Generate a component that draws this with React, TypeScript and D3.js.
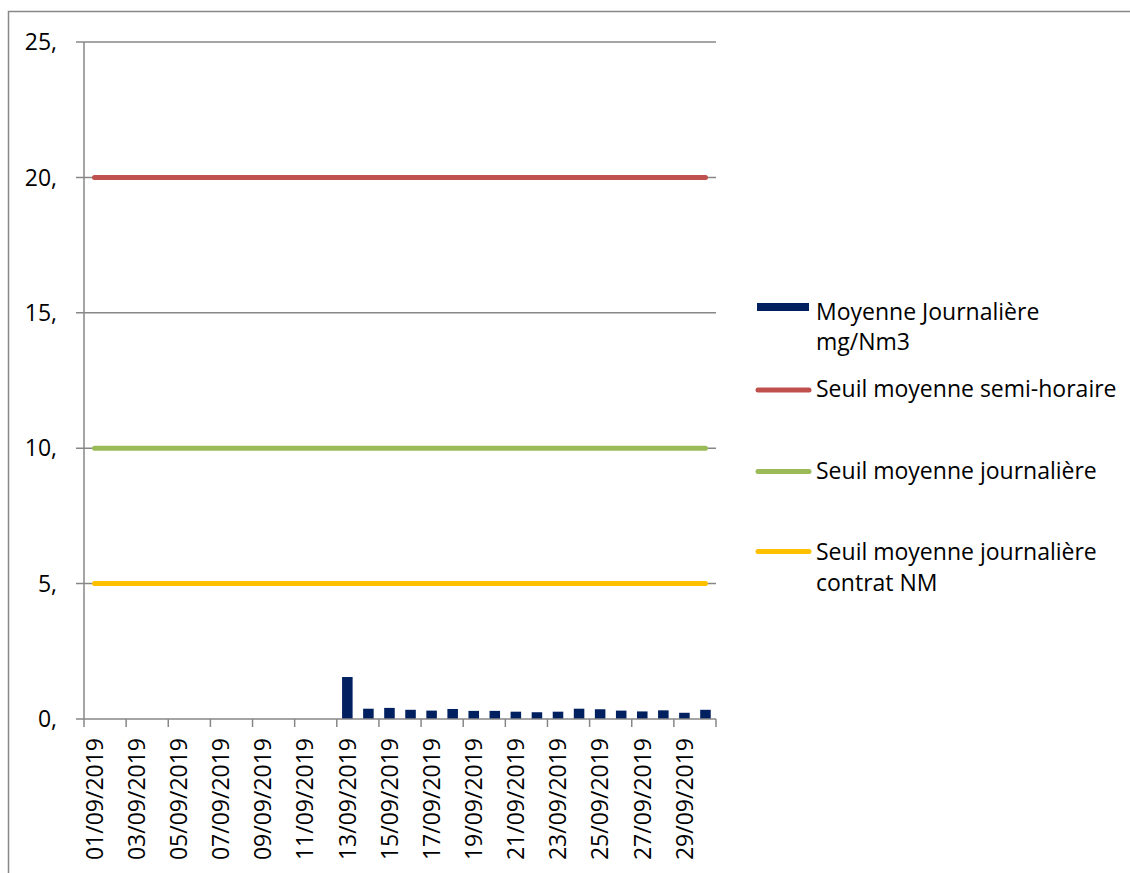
import React from "react";
import * as d3 from "d3";

const dates: string[] = Array.from({ length: 30 }, (_, i) =>
  `${String(i + 1).padStart(2, "0")}/09/2019`
);
const dailyMean: (number | null)[] = [
  null, null, null, null, null, null, null, null, null, null, null, null,
  1.55, 0.38, 0.41, 0.34, 0.31, 0.37, 0.30, 0.30, 0.27, 0.25, 0.27, 0.38,
  0.36, 0.31, 0.28, 0.32, 0.23, 0.34,
];
const seuilSemiHoraire: number[] = dates.map(() => 20);
const seuilJournaliere: number[] = dates.map(() => 10);
const seuilContrat: number[] = dates.map(() => 5);
const yTicks: number[] = [0, 5, 10, 15, 20, 25];
const yTickLabels: string[] = ["0,", "5,", "10,", "15,", "20,", "25,"];

const FONT = "'Open Sans', sans-serif";
const FS = 23;
const GRID = "#878787";

export default function App() {
  const left = 84, right = 716, top = 42, bottom = 719;
  const x = d3.scaleBand<string>().domain(dates).range([left, right]).paddingInner(0.5).paddingOuter(0.25);
  const step = x.step();
  const cx = (d: string) => (x(d) as number) + x.bandwidth() / 2;
  const y = d3.scaleLinear().domain([0, 25]).range([bottom, top]);

  const lineGen = d3.line<number>().x((_, i) => cx(dates[i])).y((v) => y(v));

  const lines = [
    { data: seuilSemiHoraire, color: "#C0504D" },
    { data: seuilJournaliere, color: "#9BBB59" },
    { data: seuilContrat, color: "#FFC000" },
  ];

  const boundaries = d3.range(0, dates.length + 1, 2).map((i) => left + i * step);

  return (
    <svg width={1130} height={873} style={{ position: "absolute", left: 0, top: 0 }} fontFamily={FONT}>
      <rect x={0} y={0} width={1130} height={873} fill="#fff" />
      <rect x={8.5} y={11.5} width={1300} height={1000} fill="none" stroke={GRID} strokeWidth={1.5} />
      {/* gridlines */}
      {yTicks.filter((t) => t > 0).map((t) => (
        <line key={t} x1={left - 8} x2={right} y1={y(t)} y2={y(t)} stroke={GRID} strokeWidth={1.5} />
      ))}
      {yTicks.map((t, i) => (
        <text key={"yl" + t} x={57} y={y(t)} dy="0.36em" textAnchor="end" fontSize={FS} fill="#000">
          {yTickLabels[i]}
        </text>
      ))}
      {/* y axis */}
      <line x1={left} x2={left} y1={top} y2={bottom} stroke={GRID} strokeWidth={1.5} />
      {/* bars */}
      {dates.map((d, i) =>
        dailyMean[i] == null ? null : (
          <rect key={d} x={x(d)} y={y(dailyMean[i] as number)} width={x.bandwidth()}
            height={y(0) - y(dailyMean[i] as number)} fill="#002060" />
        )
      )}
      {/* x axis */}
      <line x1={left - 8} x2={right} y1={bottom} y2={bottom} stroke={GRID} strokeWidth={1.5} />
      {boundaries.map((b, i) => (
        <line key={"t" + i} x1={b} x2={b} y1={bottom} y2={bottom + 8} stroke={GRID} strokeWidth={1.5} />
      ))}
      {dates.map((d, i) =>
        i % 2 === 0 ? (
          <text key={"xl" + d} transform={`translate(${cx(d)},738) rotate(-90)`} textAnchor="end"
            dy="0.36em" fontSize={FS} fill="#000">
            {d}
          </text>
        ) : null
      )}
      {/* threshold lines */}
      {lines.map((l, i) => (
        <path key={"l" + i} d={lineGen(l.data) as string} fill="none" stroke={l.color} strokeWidth={5} strokeLinecap="round" />
      ))}
      {/* legend */}
      <rect x={757} y={303} width={52} height={8} fill="#002060" />
      <text x={816} y={320} fontSize={FS} fill="#000">Moyenne Journalière</text>
      <text x={816} y={350} fontSize={FS} fill="#000">mg/Nm3</text>
      <line x1={758} x2={809} y1={390} y2={390} stroke="#C0504D" strokeWidth={5} strokeLinecap="round" />
      <text x={816} y={397} fontSize={FS} fill="#000">Seuil moyenne semi-horaire</text>
      <line x1={758} x2={809} y1={471.5} y2={471.5} stroke="#9BBB59" strokeWidth={5} strokeLinecap="round" />
      <text x={816} y={479} fontSize={FS} fill="#000">Seuil moyenne journalière</text>
      <line x1={758} x2={809} y1={551.5} y2={551.5} stroke="#FFC000" strokeWidth={5} strokeLinecap="round" />
      <text x={816} y={560} fontSize={FS} fill="#000">Seuil moyenne journalière</text>
      <text x={816} y={591} fontSize={FS} fill="#000">contrat NM</text>
    </svg>
  );
}
